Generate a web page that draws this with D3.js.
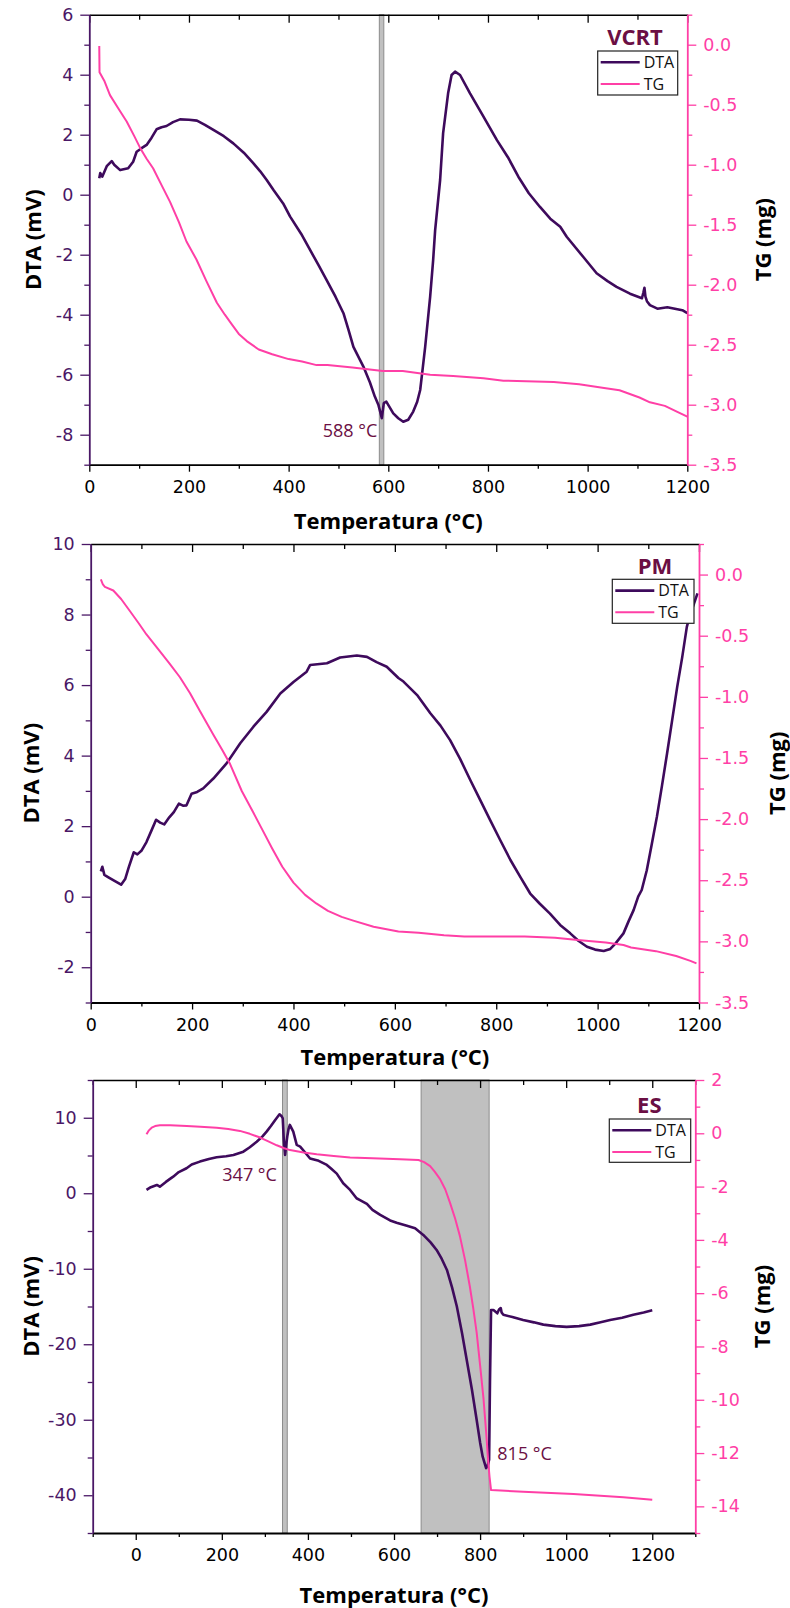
<!DOCTYPE html>
<html>
<head>
<meta charset="utf-8">
<script src="https://cdn.jsdelivr.net/npm/d3@7"></script>
<style>
  body { margin: 0; background: #fff; }
  svg { display: block; }
  .axis text { font-family: "DejaVu Sans", Arial, sans-serif; font-size: 17.5px; }
  .axis-title { font-family: "Open Sans", sans-serif; font-weight: bold; font-size: 22px; fill: #000; }
  .legend text { font-family: "Open Sans", sans-serif; font-size: 16px; fill: #111; }
  .name { font-family: "Open Sans", sans-serif; font-weight: bold; font-size: 22px; fill: #6b0f44; }
  .note { font-family: "Open Sans", sans-serif; font-size: 18px; fill: #6b0f44; }
</style>
</head>
<body>
<svg id="chart" width="790" height="1608"></svg>
<script>
// ---- data: [temperature (°C), value] ----
var vcrtDTA = [[20,0.55],[22,0.72],[26,0.6],[35,0.95],[45,1.12],[50,1.0],[62,0.82],[78,0.88],[88,1.1],[95,1.43],[105,1.55],[115,1.66],[125,1.9],[135,2.18],[145,2.25],[155,2.29],[168,2.42],[182,2.51],[200,2.5],[216,2.47],[232,2.33],[249,2.16],[270,1.95],[289,1.71],[310,1.4],[329,1.05],[343,0.78],[356,0.49],[370,0.15],[389,-0.29],[403,-0.73],[425,-1.3],[443,-1.84],[460,-2.35],[476,-2.84],[494,-3.4],[510,-3.95],[520,-4.5],[530,-5.07],[550,-5.73],[563,-6.25],[573,-6.73],[580,-7.0],[587,-7.45],[591,-6.95],[596,-6.9],[610,-7.29],[620,-7.45],[630,-7.57],[640,-7.5],[650,-7.23],[658,-6.9],[664,-6.51],[669,-5.8],[674,-5.07],[684,-3.4],[690,-2.18],[694,-1.18],[704,0.49],[710,2.05],[720,3.38],[727,3.99],[734,4.1],[744,3.99],[764,3.38],[791,2.6],[818,1.82],[840,1.25],[861,0.6],[882,0.05],[904,-0.4],[925,-0.8],[945,-1.07],[958,-1.4],[991,-2.07],[1018,-2.62],[1040,-2.88],[1058,-3.07],[1085,-3.3],[1109,-3.45],[1112,-3.25],[1114,-3.1],[1116,-3.4],[1119,-3.55],[1125,-3.68],[1140,-3.8],[1160,-3.75],[1175,-3.8],[1190,-3.85],[1200,-3.95]];
var vcrtTG = [[20,-0.01],[20.5,-0.23],[30,-0.3],[41.5,-0.42],[58,-0.53],[75,-0.64],[90,-0.76],[102,-0.86],[115,-0.95],[128,-1.03],[145,-1.17],[162,-1.31],[180,-1.48],[195,-1.64],[215,-1.79],[235,-1.97],[256,-2.15],[272,-2.25],[286,-2.33],[300,-2.41],[316,-2.47],[340,-2.54],[367,-2.58],[400,-2.62],[427,-2.64],[456,-2.67],[478,-2.67],[528,-2.69],[589,-2.72],[629,-2.72],[684,-2.75],[730,-2.76],[791,-2.78],[831,-2.8],[932,-2.81],[983,-2.83],[1033,-2.86],[1064,-2.88],[1104,-2.94],[1125,-2.98],[1155,-3.01],[1180,-3.06],[1200,-3.1]];

var pmDTA = [[20,0.72],[23,0.85],[27,0.62],[35,0.55],[47,0.45],[60,0.34],[68,0.5],[75,0.83],[85,1.26],[92,1.2],[100,1.3],[110,1.55],[120,1.88],[129,2.18],[137,2.1],[145,2.05],[155,2.25],[164,2.4],[174,2.64],[182,2.58],[189,2.59],[199,2.92],[210,2.97],[222,3.07],[242,3.35],[268,3.78],[295,4.35],[321,4.82],[347,5.24],[374,5.76],[400,6.09],[426,6.38],[433,6.57],[466,6.62],[492,6.78],[525,6.84],[545,6.8],[564,6.65],[584,6.52],[607,6.2],[617,6.1],[645,5.7],[670,5.2],[690,4.85],[709,4.44],[729,3.9],[749,3.3],[768,2.75],[788,2.17],[808,1.6],[828,1.04],[848,0.55],[867,0.09],[886,-0.2],[906,-0.48],[926,-0.8],[946,-1.04],[962,-1.25],[979,-1.42],[995,-1.5],[1012,-1.54],[1025,-1.48],[1035,-1.33],[1051,-1.04],[1061,-0.7],[1071,-0.38],[1080,0.0],[1087,0.19],[1097,0.75],[1107,1.5],[1117,2.27],[1127,3.15],[1137,4.06],[1147,5.0],[1157,5.95],[1167,6.8],[1176,7.65],[1183,8.03],[1190,8.3],[1197,8.6]];
var pmTG = [[20,-0.04],[24,-0.08],[28,-0.1],[44.6,-0.13],[60,-0.2],[77.6,-0.3],[95,-0.4],[110,-0.49],[137,-0.63],[156,-0.73],[176,-0.84],[196,-0.97],[216,-1.12],[242,-1.31],[259,-1.43],[275,-1.55],[298,-1.77],[320,-1.94],[339,-2.09],[358,-2.24],[378,-2.39],[400,-2.52],[423,-2.62],[445,-2.69],[468,-2.75],[495,-2.8],[518,-2.83],[558,-2.88],[607,-2.92],[647,-2.93],[697,-2.95],[737,-2.96],[788,-2.96],[856,-2.96],[916,-2.97],[966,-2.99],[1016,-3.01],[1051,-3.03],[1066,-3.05],[1115,-3.08],[1155,-3.12],[1183,-3.16],[1195,-3.18]];

var esDTA = [[25,0.44],[35,0.8],[49,1.1],[56,0.87],[70,1.5],[87,2.2],[100,2.8],[118,3.31],[130,3.8],[149,4.19],[170,4.55],[188,4.77],[210,4.9],[227,5.07],[250,5.51],[265,6.1],[281,6.83],[294,7.5],[304,8.16],[314,8.9],[324,9.71],[334,10.46],[339,10.2],[341.5,9.93],[344,7.06],[347,5.07],[350,6.6],[352,7.5],[355,8.5],[358,9.05],[366,8.16],[374,6.4],[382,6.17],[395,5.3],[405,4.6],[425,4.3],[444,3.75],[455,3.2],[467,2.6],[482,1.32],[498,0.44],[513,-0.66],[521,-0.9],[537,-1.4],[550,-2.2],[568,-2.87],[591,-3.6],[606,-3.9],[630,-4.3],[649,-4.64],[668,-5.52],[685,-6.5],[699,-7.51],[711,-8.7],[723,-10.16],[735,-12.5],[746,-15.0],[758,-18.5],[769,-22.08],[781,-26.0],[792,-30.0],[800,-33.0],[806,-34.9],[814,-36.4],[818,-36.0],[821,-35.3],[823,-25],[825.5,-15.46],[831,-15.46],[836,-15.7],[840,-15.9],[844,-15.4],[848,-15.2],[850,-15.8],[854,-16.1],[875,-16.4],[900,-16.8],[925,-17.1],[947,-17.4],[975,-17.6],[1001,-17.7],[1030,-17.6],[1056,-17.4],[1080,-17.1],[1102,-16.8],[1130,-16.5],[1156,-16.1],[1180,-15.8],[1200,-15.5]];
var esTG = [[25,-0.04],[30,0.1],[37,0.21],[45,0.27],[56,0.3],[80,0.3],[118.5,0.27],[150,0.25],[188,0.21],[215,0.16],[242,0.09],[265,-0.02],[289,-0.16],[308,-0.3],[327.6,-0.45],[345,-0.56],[358.5,-0.63],[390,-0.72],[420.5,-0.79],[460,-0.85],[498,-0.91],[550,-0.94],[614,-0.97],[657,-1.0],[670,-1.08],[684,-1.23],[695,-1.45],[707,-1.72],[719,-2.1],[730,-2.6],[742,-3.2],[753,-3.85],[765,-4.75],[776,-5.73],[784,-6.55],[792,-7.47],[800,-8.7],[808,-9.97],[814,-11.2],[819,-12.35],[822,-12.9],[825.5,-13.39],[900,-13.45],[1017,-13.54],[1133,-13.66],[1200,-13.75]];

// shaded temperature ranges
var vcrtBands = [[582, 591]];
var pmBands = [];
var esBands = [[341, 352], [663, 821]];

// tick values
var xMajorA = [0, 200, 400, 600, 800, 1000, 1200];
var xMinorA = [100, 300, 500, 700, 900, 1100];
var xMinorB = [-100, 100, 300, 500, 700, 900, 1100, 1300];
var tgMajorA = [-3.5, -3, -2.5, -2, -1.5, -1, -0.5, 0];
var tgMinorA = [-3.25, -2.75, -2.25, -1.75, -1.25, -0.75, -0.25, 0.25];
var vcrtDtaMajor = [-8, -6, -4, -2, 0, 2, 4, 6];
var vcrtDtaMinor = [-9, -7, -5, -3, -1, 1, 3, 5];
var pmDtaMajor = [-2, 0, 2, 4, 6, 8, 10];
var pmDtaMinor = [-3, -1, 1, 3, 5, 7, 9];
var esDtaMajor = [-40, -30, -20, -10, 0, 10];
var esDtaMinor = [-45, -35, -25, -15, -5, 5, 15];
var esTgMajor = [-14, -12, -10, -8, -6, -4, -2, 0, 2];
var esTgMinor = [-15, -13, -11, -9, -7, -5, -3, -1, 1];

var DTA_COLOR = "#3e0a5c", TG_COLOR = "#ff3fa6", LEFT_COLOR = "#4a1766";

var plain = function (d) { return String(d); };

var panels = [
  { name: "VCRT", dta: vcrtDTA, tg: vcrtTG, bands: vcrtBands,
    left: 89.3, right: 687.3, top: 14.7, bottom: 464.7,
    xDom: [0, 1200], dtaDom: [-9, 6], tgDom: [-3.5, 0.25],
    xMajor: xMajorA, xMinor: xMinorA, dMajor: vcrtDtaMajor, dMinor: vcrtDtaMinor,
    tMajor: tgMajorA, tMinor: tgMinorA, tFmt: function (d) { return d.toFixed(1); },
    leftTitleX: 33, rightTitleX: 763, xTitleY: 529,
    legend: { x: 597.7, y: 51, w: 80, h: 44, nameX: 635, nameY: 45 },
    notes: [{ t: 578, v: -7.85, anchor: "end", text: "588 °C" }] },
  { name: "PM", dta: pmDTA, tg: pmTG, bands: pmBands,
    left: 90.7, right: 699, top: 544, bottom: 1002.5,
    xDom: [0, 1200], dtaDom: [-3, 10], tgDom: [-3.5, 0.25],
    xMajor: xMajorA, xMinor: xMinorA, dMajor: pmDtaMajor, dMinor: pmDtaMinor,
    tMajor: tgMajorA, tMinor: tgMinorA, tFmt: function (d) { return d.toFixed(1); },
    leftTitleX: 31, rightTitleX: 777, xTitleY: 1065,
    legend: { x: 612.3, y: 579.3, w: 81.7, h: 44, nameX: 655, nameY: 574 },
    notes: [] },
  { name: "ES", dta: esDTA, tg: esTG, bands: esBands,
    left: 92.7, right: 695.3, top: 1080, bottom: 1533,
    xDom: [-100, 1300], dtaDom: [-45, 15], tgDom: [-15, 2],
    xMajor: xMajorA, xMinor: xMinorB, dMajor: esDtaMajor, dMinor: esDtaMinor,
    tMajor: esTgMajor, tMinor: esTgMinor, tFmt: plain,
    leftTitleX: 31, rightTitleX: 762, xTitleY: 1603,
    legend: { x: 609.3, y: 1119, w: 81.4, h: 43.3, nameX: 649.3, nameY: 1112.7 },
    notes: [{ t: 328, v: 2.4, anchor: "end", text: "347 °C" },
            { t: 840, v: -34.5, anchor: "start", text: "815 °C" }] }
];

var svg = d3.select("#chart");

function styleAxis(g, color, width) {
  g.select(".domain").attr("stroke", color).attr("stroke-width", width);
  g.selectAll(".tick line").attr("stroke", color).attr("stroke-width", 1.3);
  g.selectAll(".tick text").attr("fill", color);
}

panels.forEach(function (p) {
  var x = d3.scaleLinear().domain(p.xDom).range([p.left, p.right]);
  var yL = d3.scaleLinear().domain(p.dtaDom).range([p.bottom, p.top]);
  var yR = d3.scaleLinear().domain(p.tgDom).range([p.bottom, p.top]);
  var g = svg.append("g");

  // shaded bands
  g.selectAll(".band")
    .data(p.bands)
    .enter()
    .append("rect")
    .attr("x", function (d) { return x(d[0]); })
    .attr("y", p.top)
    .attr("width", function (d) { return x(d[1]) - x(d[0]); })
    .attr("height", p.bottom - p.top)
    .attr("fill", "#c0c0c0")
    .attr("stroke", "#8c8c8c")
    .attr("stroke-width", 1);

  // lines
  var lineL = d3.line().x(function (d) { return x(d[0]); }).y(function (d) { return yL(d[1]); });
  var lineR = d3.line().x(function (d) { return x(d[0]); }).y(function (d) { return yR(d[1]); });
  g.append("path").datum(p.dta)
    .attr("fill", "none").attr("stroke", DTA_COLOR)
    .attr("stroke-width", 2.6).attr("stroke-linejoin", "round")
    .attr("d", lineL);
  g.append("path").datum(p.tg)
    .attr("fill", "none").attr("stroke", TG_COLOR)
    .attr("stroke-width", 2).attr("stroke-linejoin", "round")
    .attr("d", lineR);

  // top frame with inward ticks
  var gt = g.append("g").attr("class", "axis").attr("transform", "translate(0," + p.top + ")");
  gt.call(d3.axisTop(x).tickValues(p.xMajor).tickSize(-8).tickSizeOuter(0).tickFormat(""));
  styleAxis(gt, "#000", 1.5);
  var gt2 = g.append("g").attr("class", "axis").attr("transform", "translate(0," + p.top + ")");
  gt2.call(d3.axisTop(x).tickValues(p.xMinor).tickSize(-5).tickSizeOuter(0).tickFormat(""));
  styleAxis(gt2, "#000", 0);

  // bottom axis
  var gb = g.append("g").attr("class", "axis").attr("transform", "translate(0," + p.bottom + ")");
  gb.call(d3.axisBottom(x).tickValues(p.xMajor).tickSize(7).tickSizeOuter(0).tickPadding(9)
    .tickFormat(plain));
  styleAxis(gb, "#000", 1.8);
  var gb2 = g.append("g").attr("class", "axis").attr("transform", "translate(0," + p.bottom + ")");
  gb2.call(d3.axisBottom(x).tickValues(p.xMinor).tickSize(4).tickSizeOuter(0).tickFormat(""));
  styleAxis(gb2, "#000", 0);

  // left DTA axis
  var gl = g.append("g").attr("class", "axis").attr("transform", "translate(" + p.left + ",0)");
  gl.call(d3.axisLeft(yL).tickValues(p.dMajor).tickSize(9).tickSizeOuter(0).tickPadding(7)
    .tickFormat(plain));
  styleAxis(gl, LEFT_COLOR, 1.8);
  var gl2 = g.append("g").attr("class", "axis").attr("transform", "translate(" + p.left + ",0)");
  gl2.call(d3.axisLeft(yL).tickValues(p.dMinor).tickSize(5).tickSizeOuter(0).tickFormat(""));
  styleAxis(gl2, LEFT_COLOR, 0);

  // right TG axis
  var gr = g.append("g").attr("class", "axis").attr("transform", "translate(" + p.right + ",0)");
  gr.call(d3.axisRight(yR).tickValues(p.tMajor).tickSize(9).tickSizeOuter(0).tickPadding(7)
    .tickFormat(p.tFmt));
  styleAxis(gr, TG_COLOR, 1.8);
  var gr2 = g.append("g").attr("class", "axis").attr("transform", "translate(" + p.right + ",0)");
  gr2.call(d3.axisRight(yR).tickValues(p.tMinor).tickSize(5).tickSizeOuter(0).tickFormat(""));
  styleAxis(gr2, TG_COLOR, 0);

  // axis titles
  var midY = (p.top + p.bottom) / 2;
  g.append("text").attr("class", "axis-title")
    .attr("transform", "translate(" + p.leftTitleX + "," + midY + ") rotate(-90)")
    .attr("text-anchor", "middle").attr("dy", "0.35em").text("DTA (mV)");
  g.append("text").attr("class", "axis-title")
    .attr("transform", "translate(" + p.rightTitleX + "," + midY + ") rotate(-90)")
    .attr("text-anchor", "middle").attr("dy", "0.35em").text("TG (mg)");
  g.append("text").attr("class", "axis-title")
    .attr("x", (p.left + p.right) / 2).attr("y", p.xTitleY)
    .attr("text-anchor", "middle").text("Temperatura (°C)");

  // annotations
  g.selectAll(".note")
    .data(p.notes)
    .enter()
    .append("text")
    .attr("class", "note")
    .attr("x", function (d) { return x(d.t); })
    .attr("y", function (d) { return yL(d.v); })
    .attr("dy", "0.35em")
    .attr("text-anchor", function (d) { return d.anchor; })
    .text(function (d) { return d.text; });

  // sample name + legend
  var L = p.legend;
  g.append("text").attr("class", "name")
    .attr("x", L.nameX).attr("y", L.nameY).attr("text-anchor", "middle").text(p.name);
  var lg = g.append("g").attr("class", "legend");
  lg.append("rect").attr("x", L.x).attr("y", L.y).attr("width", L.w).attr("height", L.h)
    .attr("fill", "#fff").attr("stroke", "#222").attr("stroke-width", 1.2);
  var items = [{ label: "DTA", color: DTA_COLOR, w: 2.6 }, { label: "TG", color: TG_COLOR, w: 2 }];
  items.forEach(function (it, i) {
    var yy = L.y + 11.3 + i * 21.7;
    lg.append("line").attr("x1", L.x + 3).attr("x2", L.x + 42).attr("y1", yy).attr("y2", yy)
      .attr("stroke", it.color).attr("stroke-width", it.w);
    lg.append("text").attr("x", L.x + 46).attr("y", yy).attr("dy", "0.35em").text(it.label);
  });
});
</script>
</body>
</html>
